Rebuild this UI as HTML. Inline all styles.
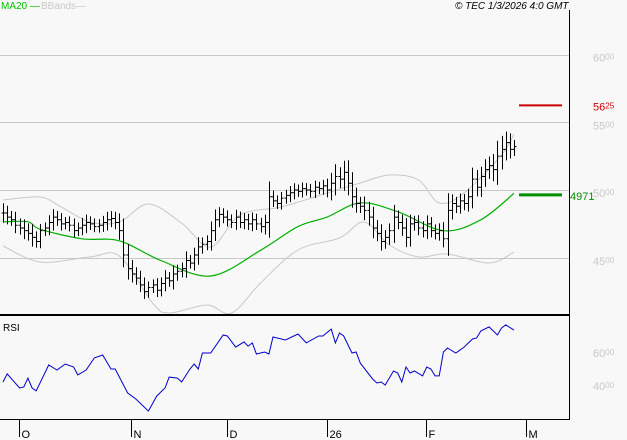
<!DOCTYPE html>
<html><head><meta charset="utf-8"><style>
body{margin:0;background:#f8f8f8;}
svg{display:block;font-family:"Liberation Sans",sans-serif;}
</style></head><body>
<svg id="c" width="627" height="440" viewBox="0 0 627 440">
<rect x="0" y="0" width="627" height="440" fill="#f8f8f8"/>
<g id="grid"></g>
<g id="bands"></g>
<g id="ma"></g>
<g id="bars"></g>
<g id="rsi"></g>
<g id="yax"></g>
<g id="xax"></g>
<line x1="569.5" y1="10" x2="569.5" y2="420" stroke="#000" stroke-width="1"/>
<line x1="0" y1="315" x2="569" y2="315" stroke="#000" stroke-width="2"/>
<line x1="0" y1="419.5" x2="569" y2="419.5" stroke="#000" stroke-width="1"/>
<text x="1" y="9" font-size="10" fill="#00c000">MA20 —</text>
<text x="41" y="9" font-size="10" fill="#c8c8c8">BBands—</text>
<text x="455" y="9" font-size="10" font-style="italic" fill="#000">© TEC 1/3/2026 4:0 GMT</text>
<text x="3" y="331" font-size="10" fill="#000">RSI</text>
</svg>
<script>
const closes=[4830,4800,4780,4740,4720,4700,4680,4650,4620,4700,
4720,4760,4800,4780,4750,4760,4740,4700,4720,4740,
4760,4750,4730,4740,4760,4780,4790,4760,4700,4520,
4420,4380,4350,4300,4250,4280,4300,4260,4310,4350,
4330,4380,4400,4420,4480,4460,4520,4580,4600,4620,
4700,4780,4820,4800,4780,4760,4800,4760,4780,4750,
4780,4750,4730,4760,4950,4920,4900,4940,4960,4980,
5000,4990,5010,5000,4990,5020,5010,5030,5000,5050,
5100,5080,5130,5050,4950,4900,4880,4850,4800,4720,
4680,4620,4650,4700,4800,4760,4720,4650,4750,4760,
4720,4700,4750,4700,4680,4700,4640,4850,4900,4880,
4920,4900,4950,5080,5020,5100,5150,5180,5150,5250,
5300,5350,5300,5320];
const ranges=[160,120,100,130,110,140,120,150,100,110,
90,120,130,100,110,90,100,110,90,120,
130,100,90,100,110,130,120,110,150,200,
180,140,110,120,120,100,90,110,100,130,
100,140,110,100,150,90,120,160,110,100,
150,170,120,100,110,90,120,90,110,100,
120,100,100,130,250,100,90,100,90,110,
110,90,100,90,100,110,90,100,120,170,
200,150,190,200,180,150,110,160,140,170,
130,150,120,120,200,110,130,160,150,110,
120,110,140,110,100,120,140,280,150,110,
120,110,130,190,150,160,170,150,190,250,
220,180,150,110];
const maPts=[[0,4765],[6,4765],[9,4710],[19,4640],[28,4625],[38,4480],[50,4365],[62,4555],[71,4730],[78,4800],[86,4905],[95,4840],[106,4700],[115,4780],[123,4975]];
const bbUpPts=[[0,4926],[9,4948],[14,4875],[21,4764],[28,4764],[35,4897],[43,4756],[50,4579],[57,4815],[67,4875],[78,4978],[86,5052],[93,5111],[100,5074],[105,4904],[111,4978],[120,5258],[123,5413]];
const bbLoPts=[[0,4587],[9,4469],[21,4506],[28,4513],[36,4166],[40,4092],[49,4151],[55,4092],[62,4314],[71,4557],[81,4646],[87,4764],[93,4594],[100,4506],[107,4528],[117,4461],[123,4542]];
const rsiPts=[[0,41.8],[1,46.7],[4,38.2],[5,38.8],[6,44.2],[7,38.2],[8,36.4],[11,52.1],[13,49.1],[15,52.7],[17,50.9],[18,46.1],[20,49.1],[22,56.4],[24,58.2],[26,49.7],[27,49.7],[30,35.2],[32,31.5],[35,24.2],[37,33.3],[39,38.2],[40,44.8],[42,44.2],[43,41.8],[45,49.7],[46,52.7],[47,49.7],[48,59.4],[50,59.4],[53,70.3],[54,69.7],[56,63.0],[58,66.1],[59,63.6],[60,65.5],[61,58.8],[63,60.0],[64,58.8],[65,69.1],[68,67.3],[71,70.9],[73,65.5],[76,69.7],[77,69.7],[79,73.9],[80,65.5],[81,71.5],[82,69.7],[84,59.4],[85,60.0],[86,53.3],[89,43.6],[90,41.2],[91,41.8],[92,40.0],[94,48.5],[95,47.3],[96,41.8],[97,50.9],[98,47.3],[99,48.5],[101,45.5],[102,50.9],[103,49.7],[104,45.5],[105,45.5],[106,60.0],[107,62.4],[109,59.4],[111,63.0],[113,67.9],[114,68.5],[115,72.7],[117,75.2],[119,70.3],[120,74.5],[121,76.4],[123,73.3]];
const priceTicks=[6000,5500,5000,4500];
const rsiTicks=[60,40];
const xTickIdx=[4,31,54,78,102,126];
const xTickLabels=["O","N","D","26","F","M"];
const resistance=5625, lastMA=4971;

const NS="http://www.w3.org/2000/svg";
const svg=document.getElementById('c');
function X(i){return 3+i*511/123;}
function Y(p){return 190-(p-5000)*0.1355;}
function RY(r){return 352-(r-60)*1.65;}
function mk(t,a,parent){const e=document.createElementNS(NS,t);for(const k in a)e.setAttribute(k,a[k]);document.getElementById(parent)?document.getElementById(parent).appendChild(e):svg.appendChild(e);return e;}

priceTicks.forEach(p=>{
  const l=mk('line',{x1:0,x2:569,y1:Math.round(Y(p))+0.5,y2:Math.round(Y(p))+0.5,stroke:'#c8c8c8','stroke-width':1},'grid');
  
  
  const t=mk('text',{x:593,y:Y(p)+7,'font-size':11,fill:'#c8c8c8'},'yax');
  
  
  const s=String(p);t.innerHTML=s.slice(0,2)+'<tspan font-size="8" dy="-2">'+s.slice(2)+'</tspan>';
});
rsiTicks.forEach(r=>{
  const t=mk('text',{x:593,y:RY(r)+5,'font-size':11,fill:'#c8c8c8'},'yax');
  
  
  const s=String(r)+'00';t.innerHTML=s.slice(0,2)+'<tspan font-size="8" dy="-2">'+s.slice(2)+'</tspan>';
});
function pathFrom(pts,fy){return pts.map((p,k)=>(k?'L':'M')+X(p[0]).toFixed(1)+','+fy(p[1]).toFixed(1)).join('');}
function smoothFrom(pts,fy){
  const P=pts.map(p=>[X(p[0]),fy(p[1])]);
  let d='M'+P[0][0].toFixed(1)+','+P[0][1].toFixed(1);
  for(let i=0;i<P.length-1;i++){
    const p0=P[Math.max(0,i-1)],p1=P[i],p2=P[i+1],p3=P[Math.min(P.length-1,i+2)];
    const c1=[p1[0]+(p2[0]-p0[0])/6,p1[1]+(p2[1]-p0[1])/6];
    const c2=[p2[0]-(p3[0]-p1[0])/6,p2[1]-(p3[1]-p1[1])/6];
    d+='C'+c1.map(v=>v.toFixed(1)).join(',')+' '+c2.map(v=>v.toFixed(1)).join(',')+' '+p2.map(v=>v.toFixed(1)).join(',');
  }
  return d;
}
[bbUpPts,bbLoPts].forEach((pts,k)=>{
  const e=mk('path',{d:smoothFrom(pts,Y),fill:'none',stroke:'#c8c8c8','stroke-width':1},'bands');
  
  
});
const mae=mk('path',{d:smoothFrom(maPts,Y),fill:'none',stroke:'#00b000','stroke-width':1.2},'ma');


closes.forEach((c,i)=>{
  const x=Math.round(X(i))+0.5, r=ranges[i], o=i?closes[i-1]:c;
  const hi=Math.max(c,o)+r*0.45, lo=Math.min(c,o)-r*0.45;
  const b=mk('path',{d:`M${x},${Y(hi)}V${Y(lo)}M${x-2},${Y(o)}H${x}M${x},${Y(c)}H${x+2}`,stroke:'#000','stroke-width':1,fill:'none'},'bars');
  
  
});
const re=mk('path',{d:pathFrom(rsiPts,RY),fill:'none',stroke:'#0000cc','stroke-width':1},'rsi');


const rl=mk('line',{x1:519,x2:562,y1:Y(resistance),y2:Y(resistance),stroke:'#cc0000','stroke-width':2});


const rt=mk('text',{x:593,y:Y(resistance)+5,'font-size':11,fill:'#cc0000'});


rt.innerHTML='56<tspan font-size="8" dy="-2">25</tspan>';
const gl=mk('line',{x1:519,x2:562,y1:Y(lastMA)+1,y2:Y(lastMA)+1,stroke:'#009000','stroke-width':3});


const gt=mk('text',{x:570,y:Y(lastMA)+6,'font-size':11,fill:'#009000'});


gt.textContent=String(lastMA);
xTickIdx.forEach((i,k)=>{
  const x=Math.round(X(i)-0.5)+0.5;
  const l=mk('line',{x1:x,x2:x,y1:419,y2:437,stroke:'#000','stroke-width':1},'xax');
  
  
  const t=mk('text',{x:x+2,y:438,'font-size':11,fill:'#000'},'xax');
  
  
  t.textContent=xTickLabels[k];
});
</script>
</body></html>
